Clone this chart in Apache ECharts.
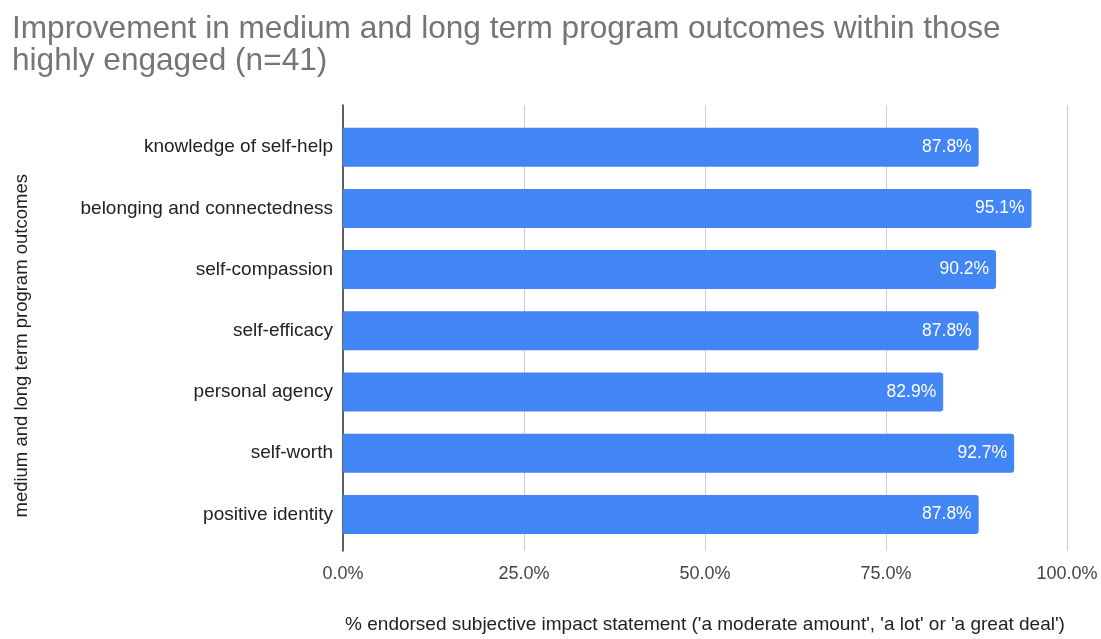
<!DOCTYPE html>
<html><head><meta charset="utf-8">
<script src="https://cdn.jsdelivr.net/npm/echarts@6/dist/echarts.min.js"></script>
<style>html,body{margin:0;padding:0;background:#fff}#c{width:1101px;height:639px}</style>
</head><body><div id="c"></div>
<script>
const categories = ["knowledge of self-help","belonging and connectedness","self-compassion","self-efficacy","personal agency","self-worth","positive identity"];
const values = [87.8, 95.1, 90.2, 87.8, 82.9, 92.7, 87.8];
const xTicks = [0, 25, 50, 75, 100];
const titleText = "Improvement in medium and long term program outcomes within those\nhighly engaged (n=41)";
const xName = "% endorsed subjective impact statement ('a moderate amount', 'a lot' or 'a great deal')";
const yName = "medium and long term program outcomes";

const FONT = "Liberation Sans, Arial, sans-serif";
const chart = echarts.init(document.getElementById('c'), null, {renderer:'canvas'});
chart.setOption({
  animation:false,
  textStyle:{fontFamily:FONT},
  title:{text:titleText,left:7,top:8,textStyle:{fontFamily:FONT,fontSize:31.6,fontWeight:'normal',color:'#757575',lineHeight:32}},
  grid:[
    {left:343,right:34,top:105,bottom:86},
    {left:343,right:34,top:116.6,bottom:94}
  ],
  xAxis:[
    {gridIndex:0,type:'value',min:xTicks[0],max:xTicks[xTicks.length-1],interval:25,
     axisLine:{show:false},axisTick:{show:false},
     splitLine:{show:true,lineStyle:{color:'#cccccc',width:1}},
     axisLabel:{formatter:v=>v.toFixed(1)+'%',fontSize:18,color:'#444',margin:14,fontFamily:FONT},
     name:xName,nameLocation:'middle',nameGap:64,nameTextStyle:{fontSize:19,color:'#222',fontFamily:FONT}},
    {gridIndex:1,type:'value',min:0,max:100,show:false}
  ],
  yAxis:[
    {gridIndex:0,type:'value',min:0,max:1,axisLine:{show:true,lineStyle:{color:'#333',width:1.5}},
     axisTick:{show:false},axisLabel:{show:false},splitLine:{show:false}},
    {gridIndex:1,type:'category',data:categories,inverse:true,
     axisLine:{show:false},axisTick:{show:false},
     axisLabel:{fontSize:19,color:'#222',margin:10,fontFamily:FONT},
     name:yName,nameLocation:'middle',nameGap:312,nameRotate:90,
     nameTextStyle:{fontSize:18.5,color:'#222',fontFamily:FONT,padding:[0,30,0,0]}}
  ],
  series:[{
    type:'bar',xAxisIndex:1,yAxisIndex:1,data:values,barWidth:39,
    itemStyle:{color:'#4285F4',borderRadius:[0,3,3,0]},
    label:{show:true,position:'insideRight',distance:7,color:'#fff',fontSize:17.5,fontFamily:FONT,
      formatter:p=>p.value.toFixed(1)+'%'}
  }]
});
</script></body></html>
